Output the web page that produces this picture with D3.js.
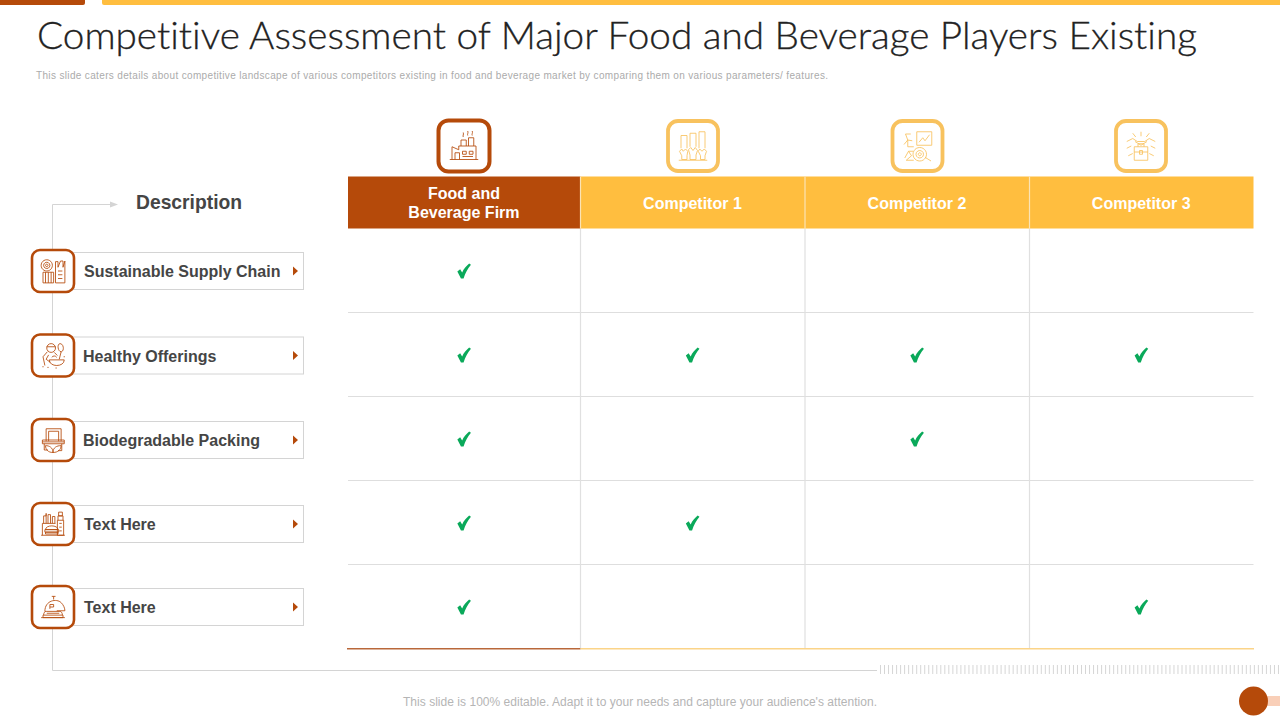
<!DOCTYPE html>
<html>
<head>
<meta charset="utf-8">
<script src="https://cdn.jsdelivr.net/npm/d3@7"></script>
<style>
  html, body { margin: 0; padding: 0; background: #fff; }
  svg { display: block; }
  text { font-family: "Liberation Sans", Arial, sans-serif; }
</style>
</head>
<body>
<svg id="chart" width="1280" height="720"></svg>
<script>
const titleText = 'Competitive Assessment of Major Food and Beverage Players Existing';
const subtitleText = 'This slide caters details about competitive landscape of various competitors existing in food and beverage market by comparing them on various parameters/ features.';
const footerText = "This slide is 100% editable. Adapt it to your needs and capture your audience's attention.";
const descriptionLabel = 'Description';

const columns = ['Food and Beverage Firm', 'Competitor 1', 'Competitor 2', 'Competitor 3'];
const features = ['Sustainable Supply Chain', 'Healthy Offerings', 'Biodegradable Packing', 'Text Here 1', 'Text Here 2'];
const featureLabels = ['Sustainable Supply Chain', 'Healthy Offerings', 'Biodegradable Packing', 'Text Here', 'Text Here'];

// one row per feature, one flag per column
const firmChecks = [1, 1, 1, 1, 1];
const competitor1Checks = [0, 1, 0, 1, 0];
const competitor2Checks = [0, 1, 1, 0, 0];
const competitor3Checks = [0, 1, 0, 0, 1];
const allChecks = [firmChecks, competitor1Checks, competitor2Checks, competitor3Checks];

const BROWN = '#b54a0a';
const YELLOW = '#ffbe3f';
const ICON_YELLOW = '#f8c25e';
const GREY = '#d4d4d4';
const DARK = '#454545';

const svg = d3.select('#chart');

// scales
const colLeft = d3.scaleOrdinal().domain(columns).range([348, 580.5, 805, 1029.5]);
const colRight = d3.scaleOrdinal().domain(columns).range([580.5, 805, 1029.5, 1253.5]);
const colMid = d => (colLeft(d) + colRight(d)) / 2;
const rowBand = d3.scaleBand().domain(features).range([228.5, 648.5]);
const rowMid = d => rowBand(d) + rowBand.bandwidth() / 2 + 0.5;

// top bars
svg.append('rect').attr('x', -6).attr('y', -5).attr('width', 91).attr('height', 10).attr('rx', 2).attr('fill', BROWN);
svg.append('rect').attr('x', 102).attr('y', -5).attr('width', 1190).attr('height', 10).attr('rx', 2).attr('fill', YELLOW);

// title
svg.append('text').attr('x', 37).attr('y', 49)
  .attr('textLength', 1160).attr('lengthAdjust', 'spacingAndGlyphs')
  .style('font-family', 'Lato, sans-serif').style('font-weight', 300)
  .style('font-variant-ligatures', 'none')
  .attr('font-size', 37).attr('fill', '#222222')
  .attr('stroke', '#222222').attr('stroke-width', 0.3).text(titleText);

svg.append('text').attr('x', 36).attr('y', 79)
  .attr('textLength', 792).attr('font-size', 10).attr('fill', '#ababab').text(subtitleText);

// table grid
const grid = svg.append('g');
features.slice(1).forEach(f => {
  grid.append('line').attr('x1', 348).attr('x2', 1253.5)
    .attr('y1', rowBand(f)).attr('y2', rowBand(f)).attr('stroke', '#dedede').attr('stroke-width', 1);
});
columns.slice(1).forEach(c => {
  grid.append('line').attr('x1', colLeft(c)).attr('x2', colLeft(c))
    .attr('y1', 229).attr('y2', 649).attr('stroke', '#e0e0e0').attr('stroke-width', 1.2);
});
svg.append('line').attr('x1', 347).attr('x2', 580.5).attr('y1', 648.7).attr('y2', 648.7)
  .attr('stroke', '#b9683a').attr('stroke-width', 1.6);
svg.append('line').attr('x1', 580.5).attr('x2', 1254).attr('y1', 648.7).attr('y2', 648.7)
  .attr('stroke', '#fbd488').attr('stroke-width', 1.6);

// header cells
const header = svg.selectAll('g.head').data(columns).join('g').attr('class', 'head');
header.append('rect')
  .attr('x', d => colLeft(d)).attr('y', 176.5)
  .attr('width', d => colRight(d) - colLeft(d)).attr('height', 52)
  .attr('fill', (d, i) => i === 0 ? BROWN : YELLOW);
header.filter((d, i) => i > 0).append('line')
  .attr('x1', d => colLeft(d)).attr('x2', d => colLeft(d)).attr('y1', 176.5).attr('y2', 228.5)
  .attr('stroke', '#fbe3b4').attr('stroke-width', 1.2);
header.each(function (d, i) {
  const g = d3.select(this);
  const lines = i === 0 ? ['Food and', 'Beverage Firm'] : [d];
  lines.forEach((t, k) => {
    g.append('text').attr('x', colMid(d) - 0.3)
      .attr('y', lines.length === 2 ? 199 + k * 19 : 208.5)
      .attr('text-anchor', 'middle').attr('font-size', 16).attr('font-weight', 700)
      .attr('fill', '#fff').text(t);
  });
});

// line icons, drawn in a 40x40 box
const iconPaths = {
  factory: 'M1 38H39M4 38V21L13 25V20H36V38M4 38M8 38V29H14V38M18 27H23V31H18ZM27 27H32V31H27ZM18 34H32M16 20V12H23V20M26 20V9H33V20M19 8C18 6 20 5 19 2M25 6C24 4 26 3 25 0M31 6C30 4 32 3 31 0',
  hands: 'M1 39H39M4 23V6H12V23M16 21V3H24V21M28 23V1H36V23M2 27L5 24L7 27L10 24L13 27L12 33V38H5V33ZM14 25L17 22L20 26L23 22L26 26L24 32V38H16V32ZM27 27L29 24L32 27L35 24L38 27L36 33V38H30V33Z',
  analysis: 'M19 1H39V19H19ZM22 15L27 9L30 13L36 5M23 22A9 9 0 1 0 23.01 22M23 26A5 5 0 1 0 23.01 26M23 29A2 2 0 1 0 23.01 29M30 35L38 40M2 18L7 12L13 13M7 12L4 4H11M7 12V21H15M3 36L8 27L12 33M8 27H14M12 33L5 39H15',
  deal: 'M11 21H29V39H11ZM16 21V17H24V21M11 28H29M18 26H22V31H18ZM1 14L9 10L15 14H25L31 10L39 14M12 14L20 19L28 14M20 1V7M9 3L13 8M31 3L27 8M1 23L7 20M39 23L33 20M3 33L9 30M37 33L31 30',
  supply: 'M10 2A9 9 0 1 0 10.01 2M10 6A5 5 0 1 0 10.01 6M10 9A2 2 0 1 0 10.01 9M4 39V22H21V39ZM8 22V39M12.5 22V39M17 22V39M24 39V5H28V14L32 4H36V14L39 4V39ZM28 20H35M28 26H35M28 32H35',
  chef: 'M17 1A7 7 0 0 1 17 15A7 7 0 0 1 17 1M10 6H24M11 14L4 22L7 36M13 19L9 26L16 31M22 15L27 20M14 27H38C38 39 14 39 14 27ZM18 23C20 20 24 20 26 23M30 26L33 14M31 1C38 1 38 14 33 14C28 14 26 2 31 1M11 39H13M24 40H26M37 22H39M3 38H5',
  packing: 'M9 22V2H33V22M13 22V6H29V22M3 20H38V26H3ZM3 23H38M6 26V36H12M34 26V37H28M20 40C12 40 8 35 8 29C14 29 20 32 20 40C20 32 26 29 33 29C33 35 28 40 20 40Z',
  shelf: 'M1 38H39M3 38V19H24M5 19V7H9V3M9 19V3M12 19V5H16V19M19 19V8H23V19M8 29C8 21 28 21 28 29ZM7 29H29V33H7ZM8 33H28V36H8ZM27 14H37V38H27ZM28 14V7H36V14M29 1H35V7H29ZM30 19H34M30 25H34M30 31H34',
  cloche: 'M1 37H39M4 33H36V37H4ZM5 33C5 29 7 27 9 27H31C33 27 35 29 35 33M8 27H7C7 9 26 6 33 13C37 17 39 22 39 26H26M21 8V3M18 3H24M15 16V23M15 16H21V20H15M10 30H30'
};
const topIcons = ['factory', 'hands', 'analysis', 'deal'];
const sideIcons = ['supply', 'chef', 'packing', 'shelf', 'cloche'];

function iconBox(parent, cx, cy, size, rx, sw, colour, icon, inner) {
  const g = parent.append('g').attr('transform', `translate(${cx},${cy})`);
  g.append('rect').attr('x', -size / 2).attr('y', -size / 2).attr('width', size).attr('height', size)
    .attr('rx', rx).attr('fill', '#fff').attr('stroke', colour).attr('stroke-width', sw);
  g.append('path').attr('d', iconPaths[icon])
    .attr('transform', `translate(${-inner / 2},${-inner / 2}) scale(${inner / 40})`)
    .attr('fill', 'none').attr('stroke', colour).attr('stroke-opacity', 0.85).attr('stroke-width', 40 / inner);
}

const topIconX = [464, 693, 917.5, 1141];
columns.forEach((c, i) => {
  iconBox(svg, topIconX[i], 146, i === 0 ? 51 : 50, 10, i === 0 ? 4 : 3.8, i === 0 ? BROWN : ICON_YELLOW, topIcons[i], 30);
});

// connector on the left
svg.append('path').attr('d', 'M52.5 670.5V204.5H110M52.5 670.5H877')
  .attr('fill', 'none').attr('stroke', GREY).attr('stroke-width', 1);
svg.append('path').attr('d', 'M110 201.5L118 204.5L110 207.5Z').attr('fill', GREY);
svg.append('text').attr('x', 136).attr('y', 209).attr('font-size', 19.3).attr('font-weight', 700)
  .attr('fill', DARK).text(descriptionLabel);

// feature labels
const labelYs = [271, 355.5, 440, 524, 607];
features.forEach((f, i) => {
  const cy = labelYs[i];
  svg.append('rect').attr('x', 60).attr('y', cy - 18.5).attr('width', 243.5).attr('height', 37)
    .attr('fill', '#fff').attr('stroke', GREY).attr('stroke-width', 1);
  iconBox(svg, 53, cy, 42, 8, 2.6, BROWN, sideIcons[i], 25);
  svg.append('text').attr('x', i === 1 || i === 2 ? 83 : 84).attr('y', cy + 6)
    .attr('font-size', 16).attr('font-weight', 700).attr('fill', DARK).text(featureLabels[i]);
  svg.append('path').attr('d', `M293 ${cy - 4.5}L298 ${cy}L293 ${cy + 4.5}Z`).attr('fill', BROWN);
});

// check marks
const checkPath = 'M-6.4 0.5L-3.6 -1.8L-1.6 1.4C0 -2 2.6 -5 5.4 -7.4L7.2 -6.2C4 -2.6 1.6 2.4 -0.2 7.4L-2.8 7.4Z';
columns.forEach((c, ci) => {
  svg.append('g').selectAll('path')
    .data(features.filter((f, ri) => allChecks[ci][ri]))
    .join('path')
    .attr('d', checkPath)
    .attr('transform', f => `translate(${colMid(c) - 0.5},${rowMid(f)})`)
    .attr('fill', '#0aa95a');
});

// tick strip at the bottom right
const stripTicks = d3.range(880.5, 1280, 4.02);
svg.append('g').selectAll('line').data(stripTicks).join('line')
  .attr('x1', d => d).attr('x2', d => d).attr('y1', 665).attr('y2', 674)
  .attr('stroke', '#d6d6d6').attr('stroke-width', 1);

// footer
svg.append('text').attr('x', 403).attr('y', 706).attr('textLength', 474)
  .attr('font-size', 12).attr('fill', '#b5b5b5').text(footerText);
svg.append('rect').attr('x', 1262).attr('y', 696).attr('width', 18).attr('height', 10).attr('fill', '#f9cfb8');
svg.append('circle').attr('cx', 1253.5).attr('cy', 701).attr('r', 14.5).attr('fill', BROWN);
</script>
</body>
</html>
